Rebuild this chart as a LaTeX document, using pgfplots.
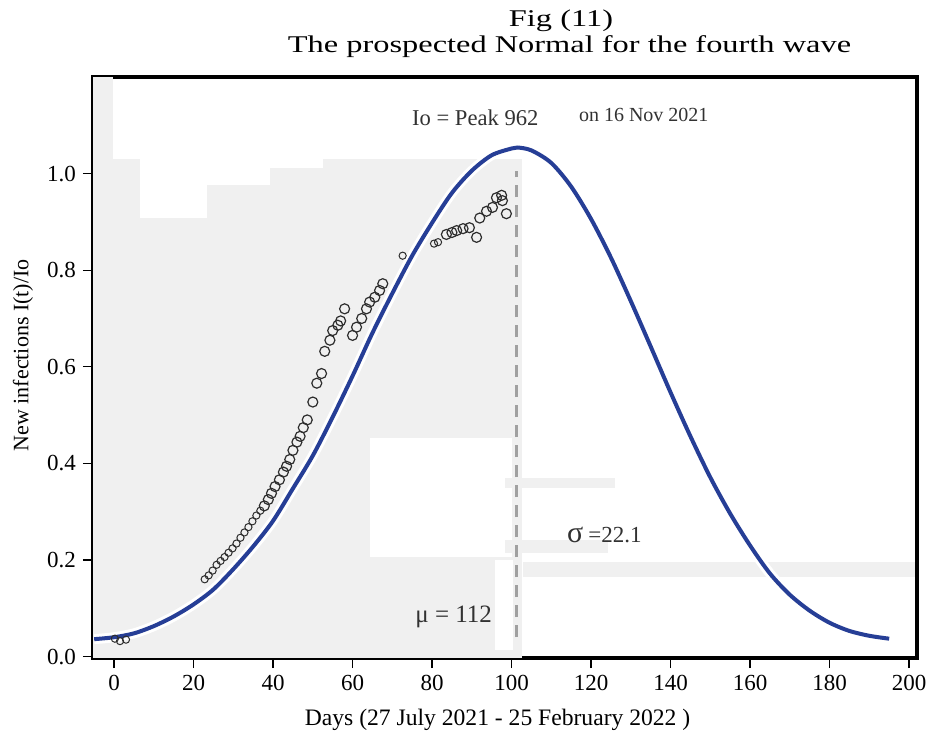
\documentclass[border=0pt]{standalone}
\usepackage{pgfplots}
\pgfplotsset{compat=1.18}
\usepackage{fontspec}
\setmainfont{Liberation Serif}
\usepackage{graphicx}
\definecolor{curveblue}{RGB}{38,62,150}
\definecolor{bggray}{RGB}{240,240,240}
\definecolor{dashgray}{RGB}{160,160,160}
\definecolor{mkgray}{RGB}{45,45,45}
\definecolor{txtgray}{RGB}{50,50,50}
\begin{document}
\begin{tikzpicture}
\useasboundingbox (0,0) rectangle (464pt,368pt);
\begin{axis}[
  at={(46.5pt,39pt)}, anchor=south west,
  scale only axis, width=412pt, height=290.5pt,
  xmin=-5.3, xmax=202, ymin=-0.003, ymax=1.2,
  axis line style={line width=1.6pt, black},
  xtick={0,20,...,200}, ytick={0,0.2,0.4,0.6,0.8,1.0},
  yticklabel style={/pgf/number format/.cd, fixed, fixed zerofill, precision=1},
  tick align=outside, tick pos=left, major tick length=5pt,
  tick style={line width=0.6pt, black},
  ticklabel style={font=\fontsize{11.5}{13}\selectfont},
  /pgf/number format/assume math mode=true,
  xlabel={Days (27 July 2021 - 25 February 2022 )},
  ylabel={New infections I(t)/Io},
  xlabel style={font=\fontsize{11.8}{14}\selectfont, at={(axis description cs:0.491,-0.107)}, anchor=center},
  ylabel style={font=\fontsize{11}{13}\selectfont, at={(axis description cs:-0.085,0.521)}, anchor=center},
]
% background patches (scan artefacts)
\fill[bggray] (axis cs:-5.3,-0.003) rectangle (axis cs:102.6,1.031);
\fill[bggray] (axis cs:-5.3,1.031) rectangle (axis cs:-0.25,1.2);
\fill[white] (axis cs:6.5,1.031) rectangle (axis cs:23.4,0.909);
\fill[white] (axis cs:23.4,1.031) rectangle (axis cs:39.2,0.976);
\fill[white] (axis cs:39.2,1.031) rectangle (axis cs:52.6,1.012);
\fill[white] (axis cs:64.4,0.452) rectangle (axis cs:100.1,0.206);
\fill[white] (axis cs:95.8,0.2) rectangle (axis cs:100.4,0.014);
\fill[bggray] (axis cs:98.3,0.369) rectangle (axis cs:126,0.348);
\fill[bggray] (axis cs:98.3,0.241) rectangle (axis cs:124.2,0.214);
\fill[bggray] (axis cs:102.8,0.196) rectangle (axis cs:201.4,0.165);

% fitted normal curve
\addplot[white, line width=5pt, smooth] coordinates {
(-5,0.036)(0,0.040)(5,0.048)(10,0.063)(15,0.083)(20,0.108)(25,0.139)(30,0.181)(35,0.228)(40,0.281)(45,0.348)(50,0.416)(55,0.496)(60,0.581)(65,0.670)(70,0.752)(75,0.830)(80,0.898)(85,0.960)(90,1.006)(95,1.038)(100,1.052)(101.5,1.054)(105,1.048)(110,1.022)(115,0.973)(120,0.906)(125,0.826)(130,0.736)(135,0.642)(140,0.547)(145,0.456)(150,0.371)(155,0.296)(160,0.230)(165,0.172)(170,0.128)(175,0.095)(180,0.070)(185,0.053)(190,0.043)(195,0.037)};
\addplot[curveblue, line width=2pt, smooth] coordinates {
(-5,0.036)(0,0.040)(5,0.048)(10,0.063)(15,0.083)(20,0.108)(25,0.139)(30,0.181)(35,0.228)(40,0.281)(45,0.348)(50,0.416)(55,0.496)(60,0.581)(65,0.670)(70,0.752)(75,0.830)(80,0.898)(85,0.960)(90,1.006)(95,1.038)(100,1.052)(101.5,1.054)(105,1.048)(110,1.022)(115,0.973)(120,0.906)(125,0.826)(130,0.736)(135,0.642)(140,0.547)(145,0.456)(150,0.371)(155,0.296)(160,0.230)(165,0.172)(170,0.128)(175,0.095)(180,0.070)(185,0.053)(190,0.043)(195,0.037)};

% peak line
\addplot[dashgray, line width=1.4pt, dash pattern=on 6pt off 4pt] coordinates {(101.3,0.04) (101.3,1.006)};

% observed data (small marks)
\addplot[only marks, mark=o, mark size=1.8pt, mkgray, mark options={line width=0.5pt}] coordinates {
(0.2,0.037)(1.5,0.032)(3.0,0.035)
(22.8,0.160)(23.8,0.168)(24.8,0.178)(25.8,0.190)(26.8,0.198)(27.8,0.206)(28.8,0.215)(29.8,0.224)(30.8,0.234)(31.8,0.246)(32.8,0.257)(33.8,0.268)(34.8,0.280)(35.8,0.292)(36.8,0.302)
(72.6,0.830)(80.5,0.855)(81.5,0.858)};
% observed data
\addplot[only marks, mark=o, mark size=2.5pt, mkgray, mark options={line width=0.6pt}] coordinates {
(37.8,0.312)(38.8,0.325)(39.6,0.338)(40.5,0.352)(41.6,0.366)(42.6,0.382)(43.4,0.394)(44.2,0.408)(45.0,0.427)(46.0,0.444)(46.8,0.456)(47.6,0.474)(48.6,0.490)(50.0,0.527)(51.0,0.566)(52.2,0.586)(53.0,0.632)(54.3,0.655)(55.0,0.675)(56.3,0.686)(57.0,0.695)(58.0,0.720)
(60.0,0.665)(61.0,0.682)(62.3,0.700)(63.5,0.720)(64.3,0.734)(65.6,0.744)(66.8,0.758)(67.6,0.772)
(83.6,0.874)(85.0,0.878)(86.2,0.882)(87.8,0.886)(89.4,0.888)(91.2,0.868)(92.0,0.908)(93.7,0.922)(95.2,0.930)(96.2,0.950)(97.5,0.955)(97.7,0.944)(98.7,0.917)};

% annotations
\node[anchor=west, txtgray, font=\fontsize{11.3}{13}\selectfont] at (axis cs:73.2,1.116) {Io = Peak 962};
\node[anchor=west, txtgray, font=\fontsize{10}{12}\selectfont] at (axis cs:115.2,1.121) {on 16 Nov 2021};
\node[anchor=west, txtgray, inner sep=0pt] at (axis cs:113.9,0.252) {{\fontsize{15}{16}\selectfont σ} {\fontsize{11.5}{12}\selectfont =22.1}};
\node[anchor=west, txtgray, inner sep=0pt, font=\fontsize{12.5}{14}\selectfont] at (axis cs:75.7,0.082) {μ = 112};
\end{axis}
\node[anchor=base] at (280.5pt,355pt) {\scalebox{1.35}[1]{\fontsize{12}{14}\selectfont Fig (11)}};
\node[anchor=base] at (284.75pt,341.5pt) {\scalebox{1.35}[1]{\fontsize{12}{14}\selectfont The prospected Normal for the fourth wave}};
\end{tikzpicture}
\end{document}
